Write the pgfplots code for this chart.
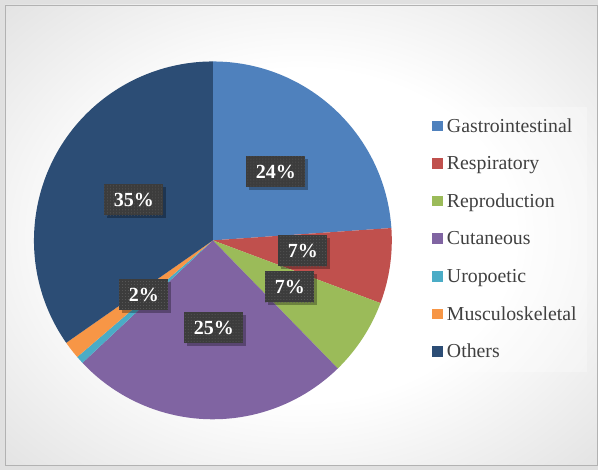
\documentclass[border=0pt]{standalone}
\usepackage{pgfplots}
\usepackage{pgfplotstable}
\pgfplotsset{compat=1.18}
\usepackage{fontspec}
\setmainfont{Liberation Serif}
\usetikzlibrary{patterns,shadows}

\definecolor{pc0}{HTML}{4F81BD}
\definecolor{pc1}{HTML}{C0504D}
\definecolor{pc2}{HTML}{9BBB59}
\definecolor{pc3}{HTML}{8064A2}
\definecolor{pc4}{HTML}{4BACC6}
\definecolor{pc5}{HTML}{F79646}
\definecolor{pc6}{HTML}{2C4D75}
\definecolor{boxc}{HTML}{3C3C3C}
\definecolor{legtext}{HTML}{404040}

\pgfdeclareradialshading{bgshade}{\pgfpoint{0bp}{0bp}}{%
  color(0bp)=(white); color(18bp)=(white); color(50bp)=(black!20); color(72bp)=(black!26)}

\tikzset{
  lab/.style={fill=boxc, text=white, font=\fontsize{20bp}{21bp}\selectfont\bfseries,
    inner xsep=9.5bp, inner ysep=0bp, minimum height=31bp,
    drop shadow={shadow xshift=3bp, shadow yshift=-3bp, opacity=0.3, fill=black},
    postaction={pattern=dots, pattern color=white!16!boxc}},
  leg/.style={anchor=base west, inner sep=0pt, text=legtext, font=\fontsize{19.8bp}{20bp}\selectfont},
}

\pgfplotstableread{
label value
Gastrointestinal 23.9
Respiratory 6.8
Reproduction 7.0
Cutaneous 25.3
Uropoetic 0.7
Musculoskeletal 1.6
Others 34.7
}\piedata

\begin{document}
\begin{tikzpicture}
\xdef\cum{0}
\foreach \i in {0,...,6}{
  \pgfplotstablegetelem{\i}{value}\of\piedata
  \pgfmathsetmacro\s{90-3.6*\cum}
  \pgfmathsetmacro\newcum{\cum+\pgfplotsretval}
  \pgfmathsetmacro\e{90-3.6*\newcum}
  \expandafter\xdef\csname sa\i\endcsname{\s}
  \expandafter\xdef\csname ea\i\endcsname{\e}
  \xdef\cum{\newcum}
}
\begin{axis}[
  x=1bp, y=1bp, xmin=0, xmax=598, ymin=0, ymax=470,
  hide axis, clip=false,
]
% background
\fill[black!12] (axis cs:0,0) rectangle (axis cs:598,470);
\shade[shading=bgshade] (axis cs:5,4) rectangle (axis cs:598,465);
\draw[black!30, line width=0.6bp] (axis cs:5,4) rectangle (axis cs:598,465);
% legend background
\fill[white, opacity=0.3] (axis cs:422,98) rectangle (axis cs:587,363);
% pie
\pgfplotsinvokeforeach{0,...,6}{
  \fill[pc#1] (axis cs:213,229.5) -- ++(\csname sa#1\endcsname:179bp)
     arc[start angle=\csname sa#1\endcsname, end angle=\csname ea#1\endcsname, radius=179bp] -- cycle;
}
% data labels
\node[lab] at (axis cs:276,298) {24\%};
\node[lab] at (axis cs:303,219) {7\%};
\node[lab] at (axis cs:290,183) {7\%};
\node[lab] at (axis cs:214,142) {25\%};
\node[lab] at (axis cs:144,175) {2\%};
\node[lab] at (axis cs:134,270) {35\%};
% legend
\pgfplotsinvokeforeach{0,...,6}{
  \fill[pc#1] (axis cs:432,{344-37.6*#1-5.3}) rectangle (axis cs:443,{344-37.6*#1+5.3});
}
\node[leg] at (axis cs:447,337.7) {Gastrointestinal};
\node[leg] at (axis cs:447,300.1) {Respiratory};
\node[leg] at (axis cs:447,262.5) {Reproduction};
\node[leg] at (axis cs:447,224.9) {Cutaneous};
\node[leg] at (axis cs:447,187.3) {Uropoetic};
\node[leg] at (axis cs:447,149.7) {Musculoskeletal};
\node[leg] at (axis cs:447,112.1) {Others};
\end{axis}
\end{tikzpicture}
\end{document}
